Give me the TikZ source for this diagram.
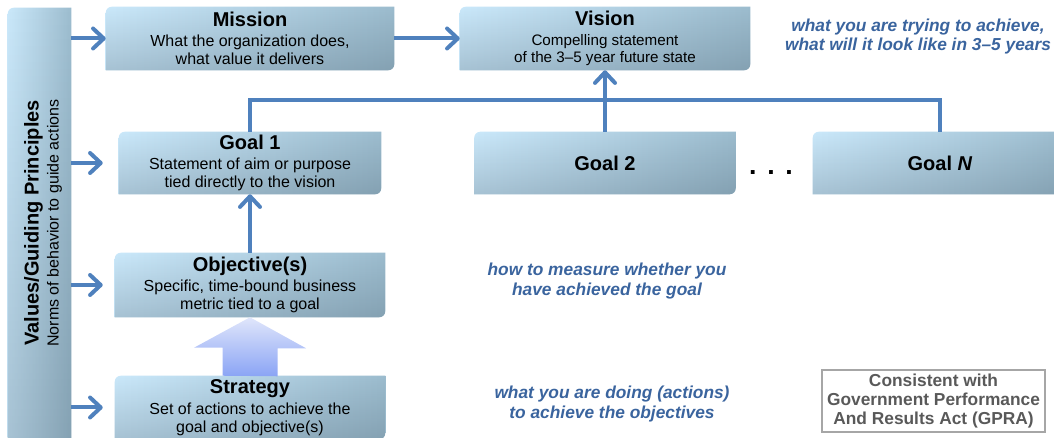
\documentclass[tikz,border=0pt]{standalone}
\usepackage{fontspec}
\setmainfont{Liberation Sans}
\usetikzlibrary{arrows.meta,backgrounds,fadings}

\definecolor{plqleft}{RGB}{202,232,250}
\definecolor{plqmid}{RGB}{180,211,229}
\definecolor{plqright}{RGB}{156,188,206}
\definecolor{plqdark}{RGB}{55,75,90}
\definecolor{lineblue}{RGB}{79,129,189}
\definecolor{noteblue}{RGB}{58,100,158}
\definecolor{arrtop}{RGB}{224,230,251}
\definecolor{arrbot}{RGB}{138,164,245}
\definecolor{gprgrey}{RGB}{89,89,89}

\newcommand{\boxtitle}[1]{{\fontsize{15}{17}\selectfont\bfseries #1}}
\newcommand{\plaquepath}[1]{(#1.north east) -- ([yshift=4.5pt]#1.south east)
    arc[start angle=0, end angle=-90, radius=4.5pt] -- (#1.south west)
    -- ([yshift=-4.5pt]#1.north west)
    arc[start angle=180, end angle=90, radius=4.5pt] -- cycle}
\newcommand{\plaque}[1]{%
  \shade[left color=plqleft, right color=plqright, middle color=plqmid] \plaquepath{#1};
  \fill[plqdark, fill opacity=0.24, path fading=north] \plaquepath{#1};}

\begin{document}
\begin{tikzpicture}[x=0.75pt, y=-0.75pt,
    box/.style={inner sep=0pt, align=center, font=\fontsize{12}{13.5}\selectfont},
    note/.style={align=center, text=noteblue, font=\fontsize{13}{14.5}\selectfont\bfseries\itshape},
    arr/.style={draw=lineblue, line width=3pt, -{Straight Barb[length=8pt,width=15pt,round]}},
    link/.style={draw=lineblue, line width=3pt}]
    \path[use as bounding box] (0,0) rectangle (1054,438);
    \clip (0,0) rectangle (1054,438);

    \node[box, minimum width=47.25pt, minimum height=328.5pt] at (39.5,227) (Val) {};
    \node[rotate=90, align=center, font=\fontsize{12}{15}\selectfont] at (43,223) (ValTxt)
        {{\fontsize{15}{15}\selectfont\bfseries Values/Guiding Principles}\\ Norms of behavior to guide actions};

    \node[box, minimum width=216pt, minimum height=47.25pt] at (250,38.5) (M)
        {\boxtitle{Mission}\\[2pt] What the organization does,\\ what value it delivers};
    \node[box, minimum width=217.5pt, minimum height=47.25pt, font=\fontsize{11.4}{13}\selectfont] at (605,38.5) (V)
        {\boxtitle{Vision}\\[2pt] Compelling statement\\ of the 3--5 year future state};
    \node[box, minimum width=196.5pt, minimum height=46.5pt] at (250,163) (G1)
        {\boxtitle{Goal 1}\\[2pt] Statement of aim or purpose\\ tied directly to the vision};
    \node[box, minimum width=195.75pt, minimum height=46.5pt] at (605,163) (G2) {\boxtitle{Goal 2}};
    \node[box, minimum width=190.5pt, minimum height=46.5pt] at (940,163) (GN) {\boxtitle{Goal \textit{N}}};
    \node[anchor=base, font=\fontsize{20}{20}\selectfont\bfseries] at (771,174.5) (dots) {.\hspace{8pt}.\hspace{8pt}.};
    \node[box, minimum width=202.5pt, minimum height=48pt] at (250,285) (Obj)
        {\boxtitle{Objective(s)}\\[2pt] Specific, time-bound business\\ metric tied to a goal};
    \node[box, minimum width=202.5pt, minimum height=47.25pt] at (250,407.5) (Str)
        {\boxtitle{Strategy}\\[2pt] Set of actions to achieve the\\ goal and objective(s)};

    \node[note] at (918,36.5) (N1) {what you are trying to achieve,\\ what will it look like in 3--5 years};
    \node[note] at (607,281) (N2) {how to measure whether you\\ have achieved the goal};
    \node[note] at (612,404) (N3) {what you are doing (actions)\\ to achieve the objectives};

    \node[draw=gray!70, line width=0.8pt, inner sep=0pt, minimum width=167.25pt, minimum height=46.5pt,
        align=center, text=gprgrey, font=\fontsize{13}{14.6}\selectfont\bfseries] at (933.5,401) (GPRA)
        {Consistent with\\ Government Performance\\ And Results Act (GPRA)};

    \begin{scope}[on background layer]
        \clip (0,0) rectangle (1054,438);
        \plaque{Val}
        \plaque{M}
        \plaque{V}
        \plaque{G1}
        \plaque{G2}
        \plaque{GN}
        \plaque{Obj}
        \plaque{Str}
    \end{scope}

    \shade[top color=arrtop, bottom color=arrbot] (Str.north) ++(-27.5,0) -- ++(0,-28) -- ++(-28.5,0)
        -- (Obj.south) -- ++(56,31) -- ++(-28.5,0) -- ++(0,28) -- cycle;

    \draw[arr] (Val.east |- M) -- (M.west);
    \draw[arr, shorten >=12pt] (Val.east |- G1) -- (G1.west);
    \draw[arr, shorten >=9pt] (Val.east |- Obj) -- (Obj.west);
    \draw[arr, shorten >=9pt] (Val.east |- Str) -- (Str.west);
    \draw[arr] (M.east) -- (V.west);
    \draw[arr] (Obj.north) -- (G1.south);
    \draw[arr] (G2.north) -- (V.south);
    \draw[link] (G1.north) -- ++(0,-32) -| (GN.north);
\end{tikzpicture}
\end{document}
